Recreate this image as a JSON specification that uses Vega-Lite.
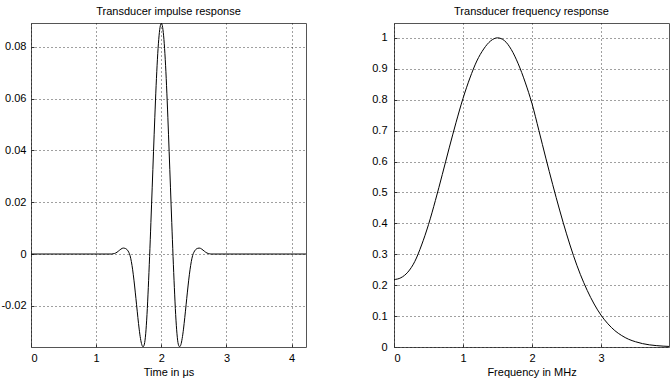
{
  "$schema": "https://vega.github.io/schema/vega-lite/v6.json",
  "background": "white",
  "padding": {"left": 0, "top": 5, "right": 0, "bottom": 4},
  "spacing": 88,
  "bounds": "flush",
  "datasets": {
    "imp": [
      {"t": 0, "v": 0},
      {"t": 1.24, "v": 0},
      {"t": 1.26, "v": 0.0001},
      {"t": 1.28, "v": 0.0002},
      {"t": 1.30, "v": 0.0004},
      {"t": 1.32, "v": 0.0007},
      {"t": 1.34, "v": 0.0011},
      {"t": 1.36, "v": 0.0015},
      {"t": 1.38, "v": 0.0019},
      {"t": 1.40, "v": 0.0022},
      {"t": 1.42, "v": 0.0023},
      {"t": 1.44, "v": 0.0022},
      {"t": 1.46, "v": 0.0020},
      {"t": 1.48, "v": 0.0015},
      {"t": 1.50, "v": 0.0007},
      {"t": 1.52, "v": -0.0006},
      {"t": 1.54, "v": -0.0029},
      {"t": 1.56, "v": -0.0061},
      {"t": 1.58, "v": -0.0101},
      {"t": 1.60, "v": -0.0147},
      {"t": 1.62, "v": -0.0196},
      {"t": 1.64, "v": -0.0245},
      {"t": 1.66, "v": -0.0290},
      {"t": 1.68, "v": -0.0326},
      {"t": 1.70, "v": -0.0350},
      {"t": 1.72, "v": -0.0358},
      {"t": 1.74, "v": -0.0348},
      {"t": 1.76, "v": -0.0308},
      {"t": 1.78, "v": -0.0234},
      {"t": 1.80, "v": -0.0130},
      {"t": 1.82, "v": -0.0010},
      {"t": 1.84, "v": 0.0122},
      {"t": 1.86, "v": 0.0258},
      {"t": 1.88, "v": 0.0395},
      {"t": 1.90, "v": 0.0528},
      {"t": 1.92, "v": 0.0650},
      {"t": 1.94, "v": 0.0752},
      {"t": 1.96, "v": 0.0828},
      {"t": 1.98, "v": 0.0875},
      {"t": 2.00, "v": 0.0891},
      {"t": 2.02, "v": 0.0875},
      {"t": 2.04, "v": 0.0828},
      {"t": 2.06, "v": 0.0752},
      {"t": 2.08, "v": 0.0650},
      {"t": 2.10, "v": 0.0528},
      {"t": 2.12, "v": 0.0395},
      {"t": 2.14, "v": 0.0258},
      {"t": 2.16, "v": 0.0122},
      {"t": 2.18, "v": -0.0010},
      {"t": 2.20, "v": -0.0130},
      {"t": 2.22, "v": -0.0234},
      {"t": 2.24, "v": -0.0308},
      {"t": 2.26, "v": -0.0348},
      {"t": 2.28, "v": -0.0358},
      {"t": 2.30, "v": -0.0350},
      {"t": 2.32, "v": -0.0326},
      {"t": 2.34, "v": -0.0290},
      {"t": 2.36, "v": -0.0245},
      {"t": 2.38, "v": -0.0196},
      {"t": 2.40, "v": -0.0147},
      {"t": 2.42, "v": -0.0101},
      {"t": 2.44, "v": -0.0061},
      {"t": 2.46, "v": -0.0029},
      {"t": 2.48, "v": -0.0006},
      {"t": 2.50, "v": 0.0007},
      {"t": 2.52, "v": 0.0015},
      {"t": 2.54, "v": 0.0020},
      {"t": 2.56, "v": 0.0022},
      {"t": 2.58, "v": 0.0023},
      {"t": 2.60, "v": 0.0022},
      {"t": 2.62, "v": 0.0019},
      {"t": 2.64, "v": 0.0015},
      {"t": 2.66, "v": 0.0011},
      {"t": 2.68, "v": 0.0007},
      {"t": 2.70, "v": 0.0004},
      {"t": 2.72, "v": 0.0002},
      {"t": 2.74, "v": 0.0001},
      {"t": 2.76, "v": 0},
      {"t": 4.22, "v": 0}
    ],
    "freq": [
      {"f": 0.0, "a": 0.218},
      {"f": 0.1, "a": 0.224},
      {"f": 0.2, "a": 0.242},
      {"f": 0.3, "a": 0.276},
      {"f": 0.4, "a": 0.330},
      {"f": 0.5, "a": 0.396},
      {"f": 0.6, "a": 0.474},
      {"f": 0.7, "a": 0.558},
      {"f": 0.8, "a": 0.644},
      {"f": 0.9, "a": 0.727},
      {"f": 1.0, "a": 0.804},
      {"f": 1.1, "a": 0.870},
      {"f": 1.2, "a": 0.925},
      {"f": 1.3, "a": 0.964},
      {"f": 1.4, "a": 0.990},
      {"f": 1.5, "a": 1.000},
      {"f": 1.6, "a": 0.991},
      {"f": 1.7, "a": 0.962},
      {"f": 1.8, "a": 0.916},
      {"f": 1.9, "a": 0.857},
      {"f": 2.0, "a": 0.787},
      {"f": 2.1, "a": 0.700},
      {"f": 2.2, "a": 0.611},
      {"f": 2.3, "a": 0.525},
      {"f": 2.4, "a": 0.443},
      {"f": 2.5, "a": 0.366},
      {"f": 2.6, "a": 0.296},
      {"f": 2.7, "a": 0.235},
      {"f": 2.8, "a": 0.183},
      {"f": 2.9, "a": 0.139},
      {"f": 3.0, "a": 0.103},
      {"f": 3.1, "a": 0.075},
      {"f": 3.2, "a": 0.053},
      {"f": 3.3, "a": 0.037},
      {"f": 3.4, "a": 0.025},
      {"f": 3.5, "a": 0.017},
      {"f": 3.6, "a": 0.011},
      {"f": 3.7, "a": 0.007},
      {"f": 3.8, "a": 0.0045},
      {"f": 3.9, "a": 0.0028},
      {"f": 4.0, "a": 0.0017}
    ]
  },
  "hconcat": [
    {
      "title": "Transducer impulse response",
      "width": 275,
      "height": 324,
      "data": {"name": "imp"},
      "mark": {"type": "line", "color": "#000", "strokeWidth": 1, "interpolate": "monotone", "clip": true},
      "encoding": {
        "x": {"field": "t", "type": "quantitative",
              "scale": {"domain": [0, 4.22], "nice": false, "zero": false},
              "axis": {"title": "Time in μs", "values": [0, 1, 2, 3, 4], "labelExpr": "toString(datum.value)", "labelPadding": 8}},
        "y": {"field": "v", "type": "quantitative",
              "scale": {"domain": [-0.0359, 0.0892], "nice": false, "zero": false},
              "axis": {"title": null, "values": [-0.02, 0, 0.02, 0.04, 0.06, 0.08], "labelExpr": "toString(datum.value)", "labelPadding": 8}}
      }
    },
    {
      "title": "Transducer frequency response",
      "width": 275,
      "height": 324,
      "data": {"name": "freq"},
      "mark": {"type": "line", "color": "#000", "strokeWidth": 1, "interpolate": "monotone", "clip": true},
      "encoding": {
        "x": {"field": "f", "type": "quantitative",
              "scale": {"domain": [0, 3.985], "nice": false, "zero": false},
              "axis": {"title": "Frequency in MHz", "values": [0, 1, 2, 3], "labelExpr": "toString(datum.value)", "labelPadding": 8}},
        "y": {"field": "a", "type": "quantitative",
              "scale": {"domain": [0, 1.048], "nice": false, "zero": false},
              "axis": {"title": null, "values": [0, 0.1, 0.2, 0.3, 0.4, 0.5, 0.6, 0.7, 0.8, 0.9, 1], "labelExpr": "toString(datum.value)", "labelPadding": 10}}
      }
    }
  ],
  "config": {
    "font": "Liberation Sans",
    "view": {"stroke": "#555", "strokeWidth": 1},
    "title": {"fontSize": 11, "fontWeight": "normal", "color": "#000", "font": "Liberation Sans", "offset": 6},
    "axis": {
      "domain": false,
      "ticks": true,
      "tickSize": -3,
      "tickColor": "#333",
      "labelFontSize": 11,
      "labelFont": "Liberation Sans",
      "labelColor": "#000",
      "titleFontSize": 11,
      "titleFont": "Liberation Sans",
      "titleFontWeight": "normal",
      "titleColor": "#000",
      "titlePadding": 3,
      "gridColor": "#000",
      "gridDash": [1, 3],
      "gridOpacity": 0.75,
      "gridWidth": 1
    }
  }
}
